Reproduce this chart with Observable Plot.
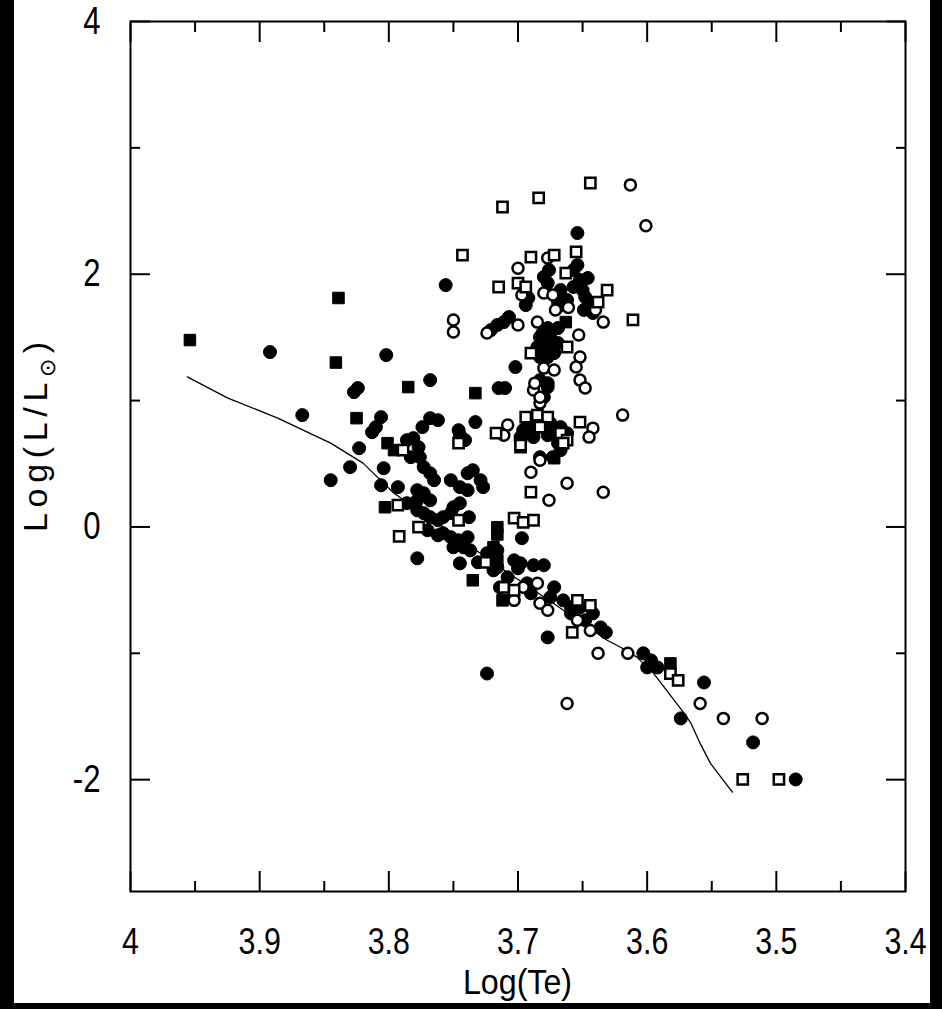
<!DOCTYPE html>
<html><head><meta charset="utf-8">
<script src="https://cdn.jsdelivr.net/npm/d3@7"></script>
<script src="https://cdn.jsdelivr.net/npm/@observablehq/plot@0.6"></script>
<style>
html,body{margin:0;padding:0;background:#000;width:942px;height:1009px;overflow:hidden;}
#paper{position:absolute;left:14px;top:0;width:916px;height:1003px;background:#fff;}
#wrap{position:absolute;left:0;top:0;width:942px;height:1009px;}
#wrap svg{background:transparent !important;}
</style></head><body><div id="paper"></div><div id="wrap"></div>
<script>
const xMajor = [4, 3.9, 3.8, 3.7, 3.6, 3.5, 3.4];
const xMinor = [3.95, 3.85, 3.75, 3.65, 3.55, 3.45];
const yMajor = [-2, 0, 2, 4];
const yMinor = [-1, 1, 3];
const xTitle = "Log(Te)";
const yTitleMain = "Log(L/L";
const yTitleSub = "⊙";
const yTitleEnd = ")";

const zamsLine = [[3.956,1.188],[3.925,1.022],[3.886,0.861],[3.845,0.663],[3.830,0.568],[3.820,0.505],[3.809,0.396],[3.796,0.267],[3.752,-0.042],[3.714,-0.319],[3.675,-0.588],[3.631,-0.897],[3.621,-0.950],[3.608,-1.030],[3.595,-1.159],[3.582,-1.333],[3.572,-1.465],[3.566,-1.555],[3.559,-1.713],[3.551,-1.871],[3.541,-2.006],[3.534,-2.099]];

const filledCircles = [[3.892,1.384],[3.802,1.360],[3.824,1.099],[3.827,1.067],[3.867,0.885],[3.806,0.869],[3.810,0.790],[3.813,0.750],[3.786,0.687],[3.823,0.623],[3.830,0.473],[3.845,0.370],[3.804,0.465],[3.806,0.330],[3.793,0.315],[3.786,0.188],[3.778,-0.248],[3.768,1.162],[3.715,1.099],[3.768,0.861],[3.762,0.845],[3.774,0.790],[3.733,0.830],[3.745,0.726],[3.741,0.687],[3.781,0.703],[3.777,0.631],[3.783,0.552],[3.776,0.552],[3.773,0.473],[3.768,0.425],[3.765,0.370],[3.752,0.370],[3.739,0.425],[3.735,0.449],[3.729,0.370],[3.727,0.315],[3.745,0.315],[3.739,0.291],[3.778,0.291],[3.773,0.267],[3.778,0.211],[3.768,0.211],[3.778,0.132],[3.773,0.109],[3.768,0.077],[3.762,0.053],[3.758,0.077],[3.752,0.109],[3.750,0.156],[3.745,0.188],[3.738,0.077],[3.770,-0.026],[3.762,-0.066],[3.758,-0.050],[3.752,-0.081],[3.746,-0.105],[3.739,-0.081],[3.742,-0.161],[3.737,-0.185],[3.750,-0.161],[3.745,-0.288],[3.731,-0.280],[3.724,-0.208],[3.716,-0.185],[3.716,-0.319],[3.714,-0.478],[3.756,1.914],[3.654,2.326],[3.692,1.812],[3.694,1.756],[3.680,1.978],[3.676,2.033],[3.677,1.930],[3.657,2.033],[3.654,2.073],[3.652,1.954],[3.657,1.899],[3.650,1.875],[3.646,1.970],[3.669,1.780],[3.667,1.875],[3.648,1.820],[3.645,1.772],[3.642,1.693],[3.649,1.717],[3.662,1.796],[3.669,1.741],[3.707,1.661],[3.711,1.621],[3.716,1.598],[3.721,1.558],[3.677,1.574],[3.669,1.574],[3.683,1.503],[3.677,1.455],[3.680,1.400],[3.685,1.424],[3.675,1.503],[3.681,1.535],[3.683,1.344],[3.677,1.344],[3.672,1.376],[3.669,1.455],[3.702,1.265],[3.683,1.162],[3.677,1.138],[3.680,1.027],[3.677,1.107],[3.710,1.099],[3.746,0.766],[3.693,0.790],[3.688,0.750],[3.675,0.766],[3.667,0.790],[3.662,0.742],[3.698,0.711],[3.669,0.663],[3.690,0.822],[3.675,0.822],[3.696,0.766],[3.698,0.687],[3.688,0.711],[3.677,0.726],[3.667,0.608],[3.683,0.552],[3.673,0.552],[3.697,-0.089],[3.703,-0.264],[3.698,-0.288],[3.688,-0.303],[3.680,-0.303],[3.700,-0.327],[3.708,-0.398],[3.719,-0.343],[3.690,-0.525],[3.693,-0.446],[3.675,-0.557],[3.672,-0.478],[3.665,-0.581],[3.659,-0.636],[3.652,-0.636],[3.659,-0.684],[3.642,-0.684],[3.636,-0.795],[3.648,-0.739],[3.632,-0.834],[3.677,-0.874],[3.603,-1.000],[3.597,-1.056],[3.592,-1.112],[3.600,-1.112],[3.724,-1.160],[3.556,-1.231],[3.574,-1.515],[3.518,-1.705],[3.485,-1.998]];

const filledSquares = [[3.954,1.479],[3.839,1.812],[3.841,1.301],[3.785,1.107],[3.825,0.861],[3.801,0.663],[3.796,0.608],[3.803,0.156],[3.733,1.059],[3.716,-0.002],[3.716,-0.060],[3.735,-0.422],[3.663,1.621],[3.672,0.544],[3.719,-0.161],[3.716,-0.264],[3.712,-0.581],[3.582,-1.080]];

const openCircles = [[3.613,2.707],[3.601,2.384],[3.677,2.128],[3.700,2.048],[3.697,1.835],[3.680,1.851],[3.673,1.835],[3.661,1.737],[3.671,1.717],[3.640,1.717],[3.634,1.621],[3.750,1.638],[3.750,1.543],[3.724,1.535],[3.700,1.598],[3.685,1.621],[3.653,1.519],[3.652,1.344],[3.655,1.265],[3.652,1.162],[3.648,1.099],[3.680,1.257],[3.672,1.242],[3.688,1.083],[3.683,0.980],[3.687,1.138],[3.683,1.027],[3.619,0.885],[3.708,0.806],[3.711,0.726],[3.642,0.782],[3.645,0.711],[3.683,0.528],[3.690,0.433],[3.662,0.346],[3.634,0.275],[3.676,0.211],[3.703,-0.581],[3.696,-0.478],[3.685,-0.446],[3.683,-0.604],[3.677,-0.660],[3.654,-0.739],[3.644,-0.819],[3.638,-1.000],[3.615,-1.000],[3.559,-1.397],[3.662,-1.397],[3.541,-1.515],[3.511,-1.515]];

const openSquares = [[3.644,2.722],[3.684,2.604],[3.712,2.532],[3.743,2.152],[3.690,2.136],[3.672,2.152],[3.655,2.176],[3.715,1.899],[3.700,1.930],[3.694,1.899],[3.663,2.009],[3.631,1.875],[3.638,1.780],[3.611,1.638],[3.690,1.376],[3.662,1.424],[3.694,0.869],[3.685,0.885],[3.677,0.869],[3.683,0.790],[3.667,0.742],[3.698,0.631],[3.662,0.687],[3.652,0.830],[3.717,0.742],[3.746,0.663],[3.698,0.647],[3.665,0.663],[3.690,0.275],[3.789,0.608],[3.793,0.172],[3.792,-0.074],[3.746,0.053],[3.777,-0.002],[3.725,-0.280],[3.703,0.069],[3.696,0.037],[3.688,0.053],[3.711,-0.478],[3.703,-0.501],[3.654,-0.581],[3.658,-0.834],[3.644,-0.620],[3.582,-1.160],[3.576,-1.215],[3.526,-1.998],[3.498,-1.998]];

const FONT = '"Liberation Sans", Arial, sans-serif';
const fmt = d => String(d);
const px = d => d[0], py = d => d[1];

const plot = Plot.plot({
  width: 942,
  height: 1009,
  marginLeft: 130,
  marginRight: 37,
  marginTop: 21,
  marginBottom: 118,
  style: {fontFamily: FONT, background: "transparent", color: "black"},
  x: {domain: [4, 3.4], axis: null},
  y: {domain: [-2.885, 4], axis: null},
  marks: [
    Plot.line(zamsLine, {x: px, y: py, stroke: "black", strokeWidth: 1.3}),
    Plot.dot(filledCircles, {x: px, y: py, r: 6.5, symbol: "circle", fill: "black", stroke: "black", strokeWidth: 1}),
    Plot.dot(filledSquares, {x: px, y: py, r: 6.5, symbol: "square", fill: "black", stroke: "black", strokeWidth: 1}),
    Plot.dot(openCircles, {x: px, y: py, r: 5.5, symbol: "circle", fill: "white", stroke: "black", strokeWidth: 2.5}),
    Plot.dot(openSquares, {x: px, y: py, r: 5.8, symbol: "square", fill: "white", stroke: "black", strokeWidth: 2.5}),
    Plot.frame({stroke: "black", strokeWidth: 2}),
    Plot.axisX(xMajor, {anchor: "bottom", tickSize: -20, tickPadding: 56, strokeWidth: 2, fontSize: 37, fontFamily: FONT, tickFormat: fmt, label: null}),
    Plot.axisX(xMinor, {anchor: "bottom", tickSize: -10, strokeWidth: 2, fill: "none", label: null}),
    Plot.axisX(xMajor, {anchor: "top", tickSize: -20, strokeWidth: 2, fill: "none", label: null}),
    Plot.axisX(xMinor, {anchor: "top", tickSize: -10, strokeWidth: 2, fill: "none", label: null}),
    Plot.axisY(yMajor, {anchor: "left", tickSize: -20, tickPadding: 50, strokeWidth: 2, fontSize: 38, fontFamily: FONT, tickFormat: fmt, label: null}),
    Plot.axisY(yMinor, {anchor: "left", tickSize: -10, strokeWidth: 2, fill: "none", label: null}),
    Plot.axisY(yMajor, {anchor: "right", tickSize: -20, strokeWidth: 2, fill: "none", label: null}),
    Plot.axisY(yMinor, {anchor: "right", tickSize: -10, strokeWidth: 2, fill: "none", label: null})
  ]
});

document.getElementById("wrap").appendChild(plot);

const svg = d3.select(plot);
// narrow the tick-label glyphs like the reference's condensed face
svg.selectAll("g[aria-label='x-axis tick label'] text, g[aria-label='y-axis tick label'] text").each(function () {
  const w = this.getComputedTextLength();
  if (w > 0) {
    this.setAttribute("textLength", (w * 0.82).toFixed(1));
    this.setAttribute("lengthAdjust", "spacingAndGlyphs");
  }
});

const [rx0, rx1] = plot.scale("x").range;
const [ry0, ry1] = plot.scale("y").range;
const xt = svg.append("text")
  .attr("x", (rx0 + rx1) / 2)
  .attr("y", 994)
  .attr("text-anchor", "middle")
  .style("font-family", FONT)
  .style("font-size", "35px")
  .attr("fill", "black")
  .text(xTitle);
{
  const w = xt.node().getComputedTextLength();
  xt.attr("textLength", (w * 0.92).toFixed(1)).attr("lengthAdjust", "spacingAndGlyphs");
}

const yt = svg.append("text")
  .attr("transform", `translate(47,${(ry0 + ry1) / 2 - 19}) rotate(-90)`)
  .attr("text-anchor", "middle")
  .style("font-family", FONT)
  .style("font-size", "34px")
  .attr("fill", "black");
yt.append("tspan").text(yTitleMain);
yt.append("tspan").attr("dy", 8).style("font-size", "22px").text(yTitleSub);
yt.append("tspan").attr("dy", -8).text(yTitleEnd);
yt.attr("textLength", 190).attr("lengthAdjust", "spacing");
</script>
</body></html>
